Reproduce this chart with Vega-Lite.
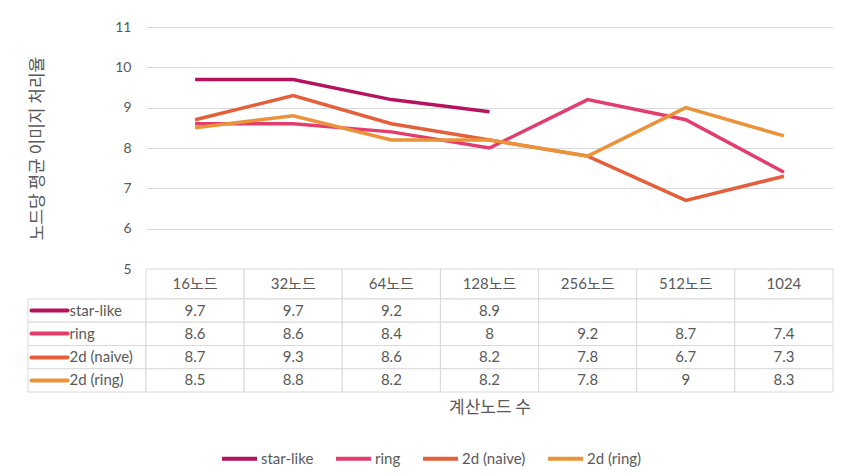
{
  "$schema": "https://vega.github.io/schema/vega-lite/v6.json",
  "padding": {"left": 27, "top": 20, "right": 20, "bottom": 5},
  "bounds": "flush",
  "spacing": 0,
  "columns": 2,
  "config": {
    "view": {"stroke": null},
    "font": "Lato, Noto Sans CJK KR",
    "text": {"font": "Lato, Noto Sans CJK KR"},
    "concat": {"spacing": 0},
    "legend": {"layout": {"bottom": {"anchor": "middle"}}}
  },
  "datasets": {
    "d": [
      {"series": "star-like", "node": "16노드", "value": 9.7},
      {"series": "star-like", "node": "32노드", "value": 9.7},
      {"series": "star-like", "node": "64노드", "value": 9.2},
      {"series": "star-like", "node": "128노드", "value": 8.9},
      {"series": "star-like", "node": "256노드", "value": null},
      {"series": "star-like", "node": "512노드", "value": null},
      {"series": "star-like", "node": "1024", "value": null},
      {"series": "ring", "node": "16노드", "value": 8.6},
      {"series": "ring", "node": "32노드", "value": 8.6},
      {"series": "ring", "node": "64노드", "value": 8.4},
      {"series": "ring", "node": "128노드", "value": 8},
      {"series": "ring", "node": "256노드", "value": 9.2},
      {"series": "ring", "node": "512노드", "value": 8.7},
      {"series": "ring", "node": "1024", "value": 7.4},
      {"series": "2d (naive)", "node": "16노드", "value": 8.7},
      {"series": "2d (naive)", "node": "32노드", "value": 9.3},
      {"series": "2d (naive)", "node": "64노드", "value": 8.6},
      {"series": "2d (naive)", "node": "128노드", "value": 8.2},
      {"series": "2d (naive)", "node": "256노드", "value": 7.8},
      {"series": "2d (naive)", "node": "512노드", "value": 6.7},
      {"series": "2d (naive)", "node": "1024", "value": 7.3},
      {"series": "2d (ring)", "node": "16노드", "value": 8.5},
      {"series": "2d (ring)", "node": "32노드", "value": 8.8},
      {"series": "2d (ring)", "node": "64노드", "value": 8.2},
      {"series": "2d (ring)", "node": "128노드", "value": 8.2},
      {"series": "2d (ring)", "node": "256노드", "value": 7.8},
      {"series": "2d (ring)", "node": "512노드", "value": 9},
      {"series": "2d (ring)", "node": "1024", "value": 8.3}
    ],
    "nodes": [
      {"node": "16노드"}, {"node": "32노드"}, {"node": "64노드"}, {"node": "128노드"},
      {"node": "256노드"}, {"node": "512노드"}, {"node": "1024"}
    ],
    "series": [
      {"series": "star-like"}, {"series": "ring"}, {"series": "2d (naive)"}, {"series": "2d (ring)"}
    ]
  },
  "concat": [
    {"width": 118, "height": 242, "data": {"values": []}, "mark": {"type": "point", "opacity": 0}, "encoding": {}},
    {
      "width": 687,
      "height": 242,
      "data": {"name": "d"},
      "mark": {"type": "line", "strokeWidth": 3.5},
      "encoding": {
        "x": {"field": "node", "type": "ordinal", "sort": ["16노드", "32노드", "64노드", "128노드", "256노드", "512노드", "1024"], "scale": {"type": "point", "padding": 0.5}, "axis": null},
        "y": {
          "field": "value", "type": "quantitative",
          "scale": {"domain": [5, 11], "nice": false, "zero": false},
          "axis": {
            "values": [5, 6, 7, 8, 9, 10, 11],
            "title": "노드당 평균 이미지 처리율",
            "titleFont": "Noto Sans CJK KR",
            "titleFontSize": 17,
            "titleFontWeight": "normal",
            "titleColor": "#595959",
            "titlePadding": 68,
            "grid": true,
            "gridColor": "#d9d9d9",
            "gridWidth": 1,
            "domain": false,
            "ticks": false,
            "labelPadding": 15,
            "labelFontSize": 14,
            "labelColor": "#595959"
          }
        },
        "color": {
          "field": "series", "type": "nominal",
          "scale": {"domain": ["star-like", "ring", "2d (naive)", "2d (ring)"], "range": ["#b5135f", "#e33d6e", "#e3603b", "#eb933a"]},
          "legend": {
            "orient": "bottom",
            "direction": "horizontal",
            "title": null,
            "symbolType": "stroke",
            "symbolSize": 1225,
            "symbolStrokeWidth": 4,
            "labelFontSize": 15,
            "labelColor": "#595959",
            "labelOffset": 2,
            "columnPadding": 14,
            "offset": 24
          }
        }
      }
    },
    {"width": 118, "height": 30, "data": {"values": []}, "mark": {"type": "point", "opacity": 0}, "encoding": {}},
    {
      "width": 687,
      "height": 30,
      "data": {"name": "nodes"},
      "encoding": {
        "x": {"field": "node", "type": "ordinal", "sort": ["16노드", "32노드", "64노드", "128노드", "256노드", "512노드", "1024"], "scale": {"paddingInner": 0, "paddingOuter": 0}, "axis": null}
      },
      "layer": [
        {"mark": {"type": "rect", "fill": "white", "stroke": "#d9d9d9", "strokeWidth": 1}},
        {"mark": {"type": "text", "fontSize": 15, "color": "#595959"}, "encoding": {"text": {"field": "node"}}}
      ]
    },
    {
      "width": 118,
      "height": 93,
      "data": {"name": "series"},
      "mark": {"type": "rect", "fill": "white", "stroke": "#d9d9d9", "strokeWidth": 1},
      "encoding": {
        "y": {
          "field": "series", "type": "nominal",
          "sort": ["star-like", "ring", "2d (naive)", "2d (ring)"],
          "scale": {"paddingInner": 0, "paddingOuter": 0},
          "axis": {
            "title": null,
            "domain": false,
            "grid": false,
            "offset": -3,
            "tickSize": -36,
            "tickWidth": 4,
            "tickCap": "round",
            "tickColor": {
              "condition": [
                {"test": "datum.value === 'star-like'", "value": "#b5135f"},
                {"test": "datum.value === 'ring'", "value": "#e33d6e"},
                {"test": "datum.value === '2d (naive)'", "value": "#e3603b"}
              ],
              "value": "#eb933a"
            },
            "labelAlign": "left",
            "labelPadding": -2,
            "labelFontSize": 15,
            "labelColor": "#595959"
          }
        }
      }
    },
    {
      "width": 687,
      "height": 93,
      "data": {"name": "d"},
      "encoding": {
        "x": {
          "field": "node", "type": "ordinal",
          "sort": ["16노드", "32노드", "64노드", "128노드", "256노드", "512노드", "1024"],
          "scale": {"paddingInner": 0, "paddingOuter": 0},
          "axis": {
            "title": "계산노드 수",
            "titleFont": "Noto Sans CJK KR",
            "titleFontSize": 17,
            "titleFontWeight": "normal",
            "titleColor": "#595959",
            "titlePadding": 7,
            "labels": false,
            "ticks": false,
            "domain": false,
            "grid": false
          }
        },
        "y": {"field": "series", "type": "nominal", "sort": ["star-like", "ring", "2d (naive)", "2d (ring)"], "scale": {"paddingInner": 0, "paddingOuter": 0}, "axis": null}
      },
      "layer": [
        {"mark": {"type": "rect", "fill": "white", "stroke": "#d9d9d9", "strokeWidth": 1}},
        {
          "transform": [{"filter": "datum.value != null"}],
          "mark": {"type": "text", "fontSize": 15, "color": "#595959"},
          "encoding": {"text": {"field": "value", "type": "quantitative"}}
        }
      ]
    }
  ]
}
